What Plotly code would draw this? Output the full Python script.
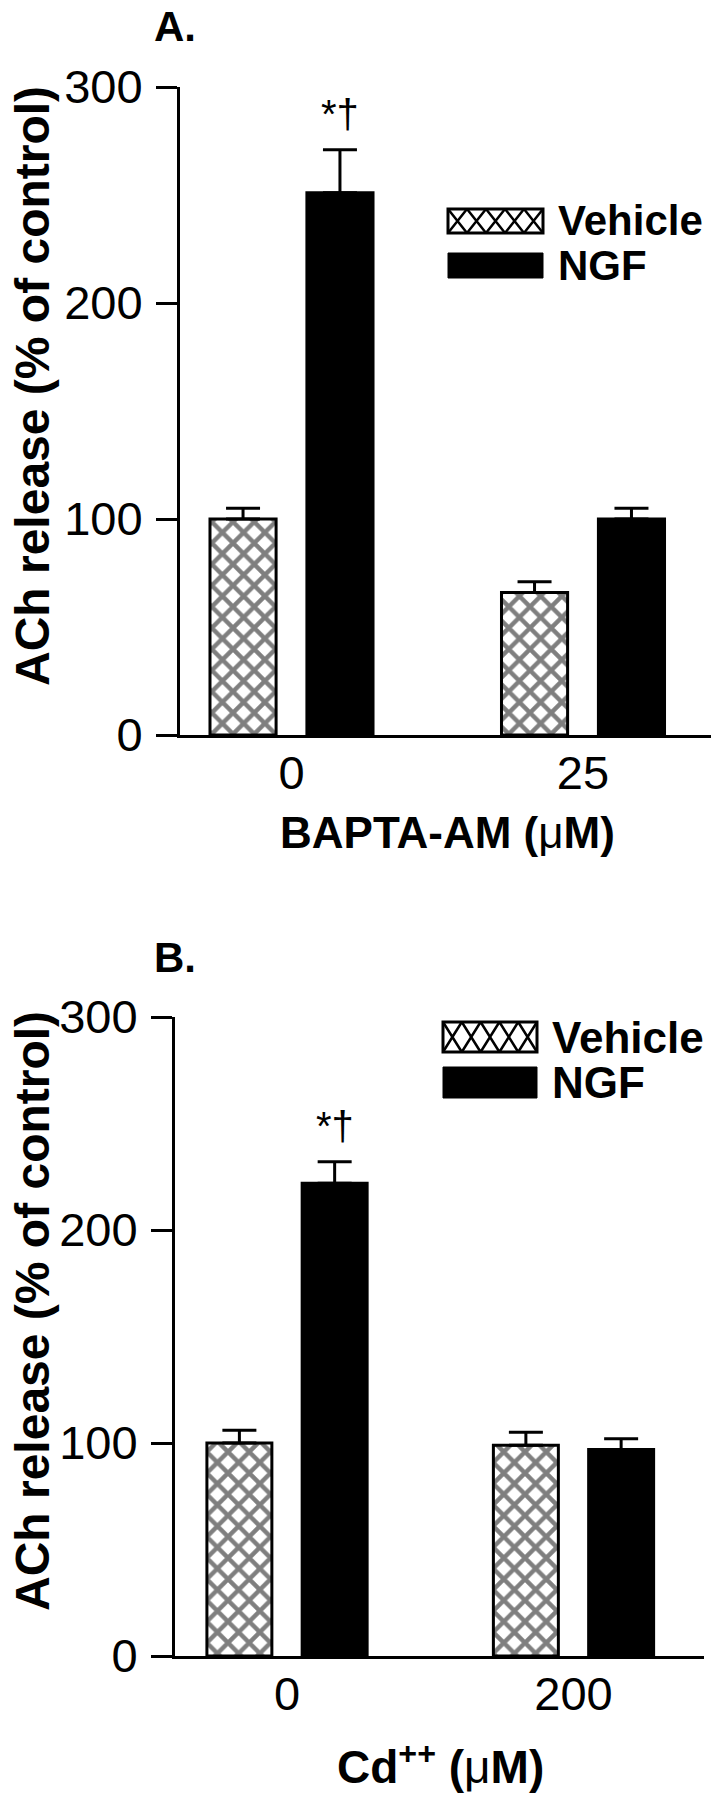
import plotly.graph_objects as go

# ---------------- data ----------------
groups_a = ["0", "25"]
vehicle_a = [100, 66]
vehicle_a_err = [5, 5]
ngf_a = [251, 100]
ngf_a_err = [20, 5]

groups_b = ["0", "200"]
vehicle_b = [100, 99]
vehicle_b_err = [6, 6]
ngf_b = [222, 97]
ngf_b_err = [10, 5]

series_names = ["Vehicle", "NGF"]
sig_label = "*†"

# ---------------- layout helpers ----------------
OFF = 8  # default page body margin
W, H = 719 - OFF, 1800 - OFF
FONT = "Liberation Sans, Arial, sans-serif"


def px(x):
    return (x - OFF) / W


def py(y):
    return 1 - (y - OFF) / H


fig = go.Figure()

hatch = dict(shape="x", size=15, solidity=0.5, fgcolor="black", bgcolor="white")


def add_panel(groups, veh, veh_err, ngf, ngf_err, xa, ya):
    fig.add_trace(go.Bar(
        x=groups, y=veh, name=series_names[0], xaxis=xa, yaxis=ya,
        marker=dict(color="white", pattern=hatch, line=dict(color="black", width=3)),
        error_y=dict(type="data", array=veh_err, arrayminus=[0] * len(veh_err),
                     symmetric=False, color="black", thickness=3, width=17),
        showlegend=False,
    ))
    fig.add_trace(go.Bar(
        x=groups, y=ngf, name=series_names[1], xaxis=xa, yaxis=ya,
        marker=dict(color="black", line=dict(color="black", width=3)),
        error_y=dict(type="data", array=ngf_err, arrayminus=[0] * len(ngf_err),
                     symmetric=False, color="black", thickness=3, width=17),
        showlegend=False,
    ))
    # significance marker above first NGF bar
    fig.add_annotation(
        x=groups[0], y=ngf[0] + ngf_err[0], xref=xa, yref=ya,
        text=sig_label, showarrow=False, xshift=48, yshift=12,
        xanchor="center", yanchor="bottom",
        font=dict(family=FONT, size=40, color="black"),
    )


add_panel(groups_a, vehicle_a, vehicle_a_err, ngf_a, ngf_a_err, "x", "y")
add_panel(groups_b, vehicle_b, vehicle_b_err, ngf_b, ngf_b_err, "x2", "y2")

axis_common_y = dict(
    range=[0, 300], tickvals=[0, 100, 200, 300], showgrid=False, zeroline=False,
    showline=True, linecolor="black", linewidth=3, ticks="outside", ticklen=21,
    tickwidth=3, tickcolor="black", ticklabelstandoff=4,
    tickfont=dict(family=FONT, size=47, color="black"), automargin=False,
)
axis_common_x = dict(
    type="category", showgrid=False, zeroline=False, showline=True,
    linecolor="black", linewidth=3, ticks="", ticklabelstandoff=-5,
    tickfont=dict(family=FONT, size=47, color="black"), automargin=False,
)

fig.update_layout(
    width=W, height=H, margin=dict(l=0, r=0, t=0, b=0),
    paper_bgcolor="white", plot_bgcolor="white",
    barmode="group", bargap=0.335, bargroupgap=0.318,
    showlegend=False,
    xaxis=dict(axis_common_x, domain=[px(180), px(715)], range=[-0.3825, 1.4528], anchor="y"),
    yaxis=dict(axis_common_y, domain=[py(735), py(87)], anchor="x"),
    xaxis2=dict(axis_common_x, domain=[px(175), px(704)], range=[-0.391, 1.4555], anchor="y2"),
    yaxis2=dict(axis_common_y, domain=[py(1656), py(1017)], anchor="x2"),
)


def note(text, x, y, size, angle=0, xanchor="center"):
    fig.add_annotation(text=text, x=px(x), y=py(y), xref="paper", yref="paper",
                       xanchor=xanchor, yanchor="middle", showarrow=False,
                       textangle=angle, font=dict(family=FONT, size=size, color="black"))


# axis titles
note("<b>BAPTA-AM (</b>μ<b>M)</b>", 447, 832, 44)
note("<b>Cd<sup>++</sup> (</b>μ<b>M)</b>", 440, 1764, 46)
for yc in (386, 1311):
    note("<b>ACh release (% of control)</b>", 32, yc, 48, angle=-90)

# panel labels
note("<b>A.</b>", 152, 26, 42, xanchor="left")
note("<b>B.</b>", 152, 957, 42, xanchor="left")


# manual legends
def legend(x0, x1, vy0, vy1, ny0, ny1, tx, fsize):
    ncell = 5
    cw = (x1 - x0) / ncell
    path = ""
    for k in range(ncell):
        a = x0 + k * cw
        b = a + cw
        path += f"M{px(a)},{py(vy0)} L{px(b)},{py(vy1)} M{px(b)},{py(vy0)} L{px(a)},{py(vy1)} "
    fig.add_shape(type="path", path=path, xref="paper", yref="paper",
                  line=dict(color="black", width=2.5))
    fig.add_shape(type="rect", x0=px(x0), x1=px(x1), y0=py(vy1), y1=py(vy0),
                  xref="paper", yref="paper", line=dict(color="black", width=3))
    fig.add_shape(type="rect", x0=px(x0), x1=px(x1), y0=py(ny1), y1=py(ny0),
                  xref="paper", yref="paper", line=dict(color="black", width=1),
                  fillcolor="black")
    note(f"<b>{series_names[0]}</b>", tx, (vy0 + vy1) / 2, fsize, xanchor="left")
    note(f"<b>{series_names[1]}</b>", tx, (ny0 + ny1) / 2, fsize, xanchor="left")


legend(448, 543, 209, 233, 253, 278, 556, 42)
legend(443, 537, 1022, 1052, 1067, 1098, 550, 44)

fig.write_html("out.html")
